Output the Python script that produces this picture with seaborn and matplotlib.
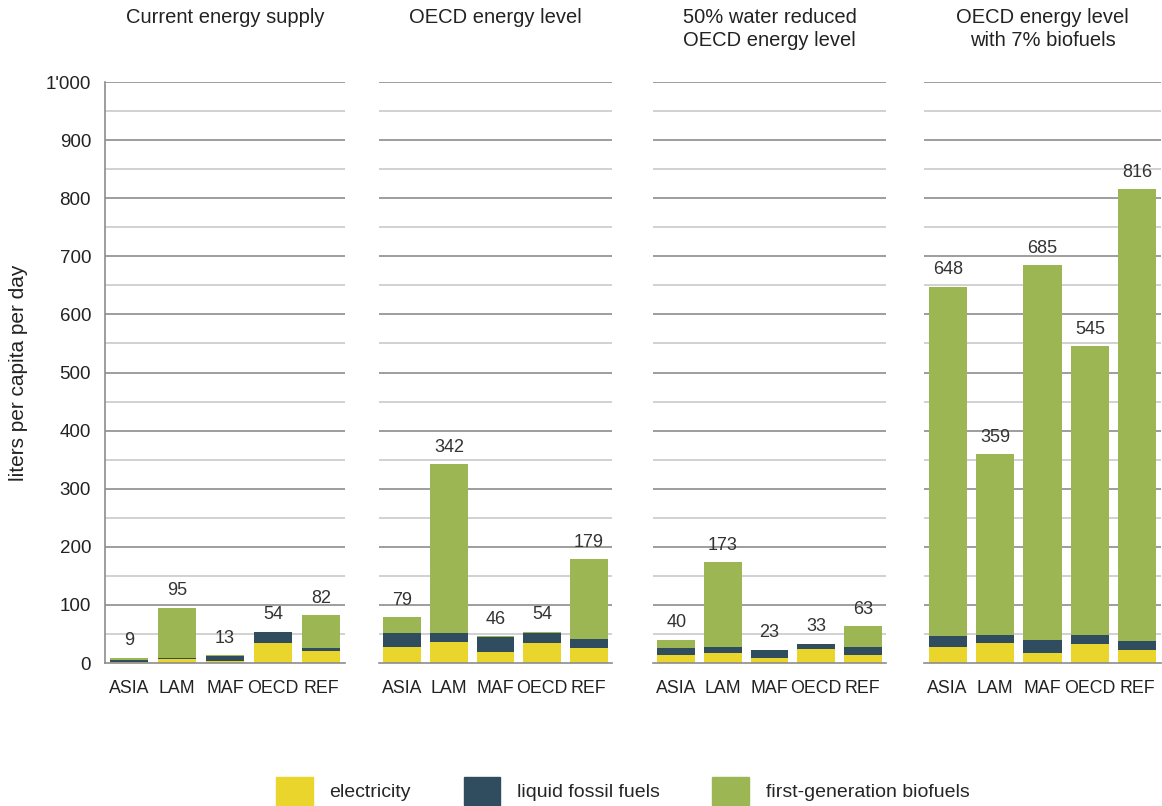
import numpy as np
import pandas as pd
import matplotlib.pyplot as plt
import seaborn as sns
from matplotlib.patches import Patch

#%% DATA

regions = ['ASIA', 'LAM', 'MAF', 'OECD', 'REF']
scenarios = ['Current energy supply', 'OECD energy level',
             '50% water reduced\nOECD energy level',
             'OECD energy level\nwith 7% biofuels']

electricity = [[1, 7, 4, 35, 20],
               [28, 37, 19, 34, 26],
               [13, 18, 8, 24, 13],
               [27, 35, 17, 33, 22]]
fossil = [[4, 2, 8, 18, 5],
          [24, 15, 25, 18, 15],
          [13, 9, 14, 8, 15],
          [20, 13, 23, 15, 16]]
biofuels = [[4, 86, 1, 1, 57],
            [27, 290, 2, 2, 138],
            [14, 146, 1, 1, 35],
            [601, 311, 645, 497, 778]]

yticks = np.arange(0, 1001, 100)
ytick_labels = ['0', '100', '200', '300', '400', '500', '600', '700', '800', '900', "1'000"]

col_elec = '#E9D52B'
col_fossil = '#2F4D5E'
col_bio = '#9DB654'

rows = []
for i, sc in enumerate(scenarios):
    for j, reg in enumerate(regions):
        rows.append({'scenario': sc, 'region': reg,
                     'elec': electricity[i][j], 'fossil': fossil[i][j], 'bio': biofuels[i][j]})
df = pd.DataFrame(rows)
df['lvl1'] = df['elec']
df['lvl2'] = df['elec'] + df['fossil']
df['total'] = df['lvl2'] + df['bio']

#%% PLOT

sns.set_style('white')
plt.rcParams['font.family'] = ['Liberation Sans', 'DejaVu Sans']

fig = plt.figure(figsize=(11.62, 8.06), dpi=100)
W, H = 1162, 806
panels = [(105, 240), (379, 233), (653, 233), (924, 237)]
bottom, top = 663, 82
txt = '#222222'

for k, (left, width) in enumerate(panels):
    ax = fig.add_axes([left / W, 1 - bottom / H, width / W, (bottom - top) / H])
    sub = df[df['scenario'] == scenarios[k]]

    # gridlines
    for y in np.arange(50, 1001, 100):
        ax.axhline(y, color='#c9c9c9', lw=1.2, zorder=0)
    for y in yticks[1:]:
        ax.axhline(y, color='#8c8c8c', lw=1.2, zorder=0)

    # stacked bars by overlaying cumulative totals
    for col, c in [('total', col_bio), ('lvl2', col_fossil), ('lvl1', col_elec)]:
        sns.barplot(data=sub, x='region', y=col, order=regions, color=c,
                    width=0.81, saturation=1, linewidth=0, edgecolor='none',
                    ax=ax, zorder=2)

    for j, reg in enumerate(regions):
        tot = int(sub.loc[sub['region'] == reg, 'total'].iloc[0])
        ax.annotate(str(tot), (j, tot), xytext=(0, 6), textcoords='offset points',
                    ha='center', va='bottom', fontsize=13, color='#333333')

    ax.set_xlim(-0.5, 4.5)
    ax.set_ylim(0, 1000)
    ax.set_xlabel('')
    ax.set_ylabel('')
    ax.text(0.5, 1 + 74 / (bottom - top), scenarios[k], transform=ax.transAxes,
            ha='center', va='top', fontsize=14.5, color=txt, linespacing=1.25)

    ax.tick_params(axis='x', which='major', length=0, labelsize=12.8, pad=12, colors=txt)
    ax.set_xticks(np.arange(0.5, 4.0, 1.0), minor=True)
    ax.tick_params(axis='x', which='minor', length=5, color='#8c8c8c', width=1.2)

    for s in ['top', 'right']:
        ax.spines[s].set_visible(False)
    ax.spines['bottom'].set_color('#8c8c8c')
    ax.spines['bottom'].set_linewidth(1.2)

    if k == 0:
        ax.set_yticks(yticks)
        ax.set_yticklabels(ytick_labels)
        ax.tick_params(axis='y', length=4, width=1.2, color='#8c8c8c', labelsize=13.5,
                       pad=6, labelcolor=txt)
        ax.spines['left'].set_color('#8c8c8c')
        ax.spines['left'].set_linewidth(1.2)
        ax.set_ylabel('liters per capita per day', fontsize=15, color=txt, labelpad=13)
    else:
        ax.set_yticks([])
        ax.spines['left'].set_visible(False)

handles = [Patch(color=col_elec, label='electricity'),
           Patch(color=col_fossil, label='liquid fossil fuels'),
           Patch(color=col_bio, label='first-generation biofuels')]
fig.legend(handles=handles, loc='center', bbox_to_anchor=(0.536, 1 - 791 / H), ncol=3,
           frameon=False, fontsize=14, handlelength=1.9, handleheight=1.8,
           columnspacing=2.7, handletextpad=0.85)

plt.savefig('out.png', dpi=100)
